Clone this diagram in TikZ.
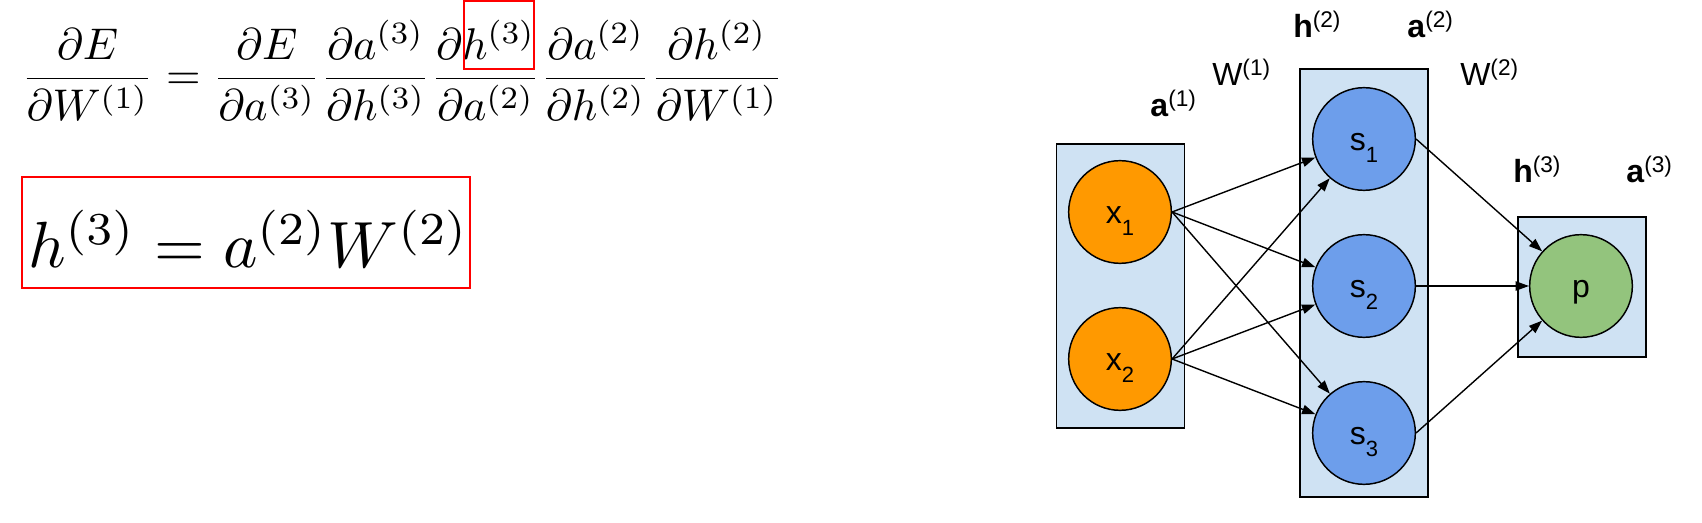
\documentclass[tikz,border=0pt]{standalone}
\usepackage[no-math]{fontspec}
\usepackage{graphicx}
\newfontfamily\diagfont{Liberation Sans}
\usetikzlibrary{arrows.meta}
\definecolor{layerblue}{HTML}{CFE2F3}
\definecolor{inorange}{HTML}{FF9900}
\definecolor{hidblue}{HTML}{6D9EEB}
\definecolor{outgreen}{HTML}{93C47D}
\newcommand{\upidx}[1]{\raisebox{8pt}{\fontsize{17}{17}\selectfont(#1)}}
\newcommand{\dnidx}[1]{\raisebox{-9.5pt}[0pt][0pt]{\fontsize{16.5}{17}\selectfont#1}}
\begin{document}
\begin{tikzpicture}[x=0.75pt,y=-0.75pt,
  layer/.style={draw=black,line width=1.4pt,fill=layerblue,inner sep=0pt},
  unit/.style={circle,draw=black,line width=1.1pt,minimum size=77pt,inner sep=0pt,
    font=\diagfont\fontsize{24}{28}\selectfont,text height=16.8pt,text depth=0pt},
  tag/.style={anchor=base west,inner sep=0pt,font=\diagfont\fontsize{24}{28}\selectfont},
  wire/.style={line width=1.05pt,-{Triangle[length=10pt,width=7pt]}},
  hilite/.style={draw=red,line width=1.5pt}]
\useasboundingbox (0,0) rectangle (1702,523);
% equations
\node[anchor=base west,inner sep=0pt] (chainrule) at (21,89.7) {\scalebox{3.33}{$\displaystyle
  {\frac{\partial E}{\partial W^{(1)}}}={\frac{\partial E}{\partial a^{(3)}}}{\frac{\partial a^{(3)}}{\partial h^{(3)}}}{\frac{\partial h^{(3)}}{\partial a^{(2)}}}{\frac{\partial a^{(2)}}{\partial h^{(2)}}}{\frac{\partial h^{(2)}}{\partial W^{(1)}}}$}};
\draw[hilite] (464,1) rectangle (534,69);
\node[anchor=base west,inner sep=0pt] (hdef) at (28,268) {\scalebox{4.9}{$h^{(3)}=a^{(2)}W^{(2)}$}};
\draw[hilite] (22,177) rectangle (470,288);
% layers
\node[layer,minimum width=96pt,minimum height=213pt] (inlayer) at (1120.5,286) {};
\node[layer,minimum width=96pt,minimum height=320.5pt] (hidlayer) at (1363.75,283) {};
\node[layer,minimum width=96pt,minimum height=105pt] (outlayer) at (1582,287) {};
% units
\node[unit,fill=inorange] (x1) at (1120,212) {x\dnidx{1}};
\node[unit,fill=inorange] (x2) at (1120,359) {x\dnidx{2}};
\node[unit,fill=hidblue] (s1) at (1364,139) {s\dnidx{1}};
\node[unit,fill=hidblue] (s2) at (1364,286) {s\dnidx{2}};
\node[unit,fill=hidblue] (s3) at (1364,433) {s\dnidx{3}};
\node[unit,fill=outgreen] (p) at (1581,286) {p};
% weights
\draw[wire] (x1.east) -- (s1);
\draw[wire] (x1.east) -- (s2);
\draw[wire] (x1.east) -- (s3);
\draw[wire] (x2.east) -- (s1);
\draw[wire] (x2.east) -- (s2);
\draw[wire] (x2.east) -- (s3);
\draw[wire] (s1.east) -- (p);
\draw[wire] (s2.east) -- (p);
\draw[wire] (s3.east) -- (p);
% labels
\node[tag] (a1) at (1150,117) {\textbf{a}\upidx{1}};
\node[tag] (w1) at (1212,86) {W\upidx{1}};
\node[tag] (h2) at (1293,38) {\textbf{h}\upidx{2}};
\node[tag] (a2) at (1407,38) {\textbf{a}\upidx{2}};
\node[tag] (w2) at (1460,86) {W\upidx{2}};
\node[tag] (h3) at (1513,183) {\textbf{h}\upidx{3}};
\node[tag] (a3) at (1626,183) {\textbf{a}\upidx{3}};
\end{tikzpicture}
\end{document}
